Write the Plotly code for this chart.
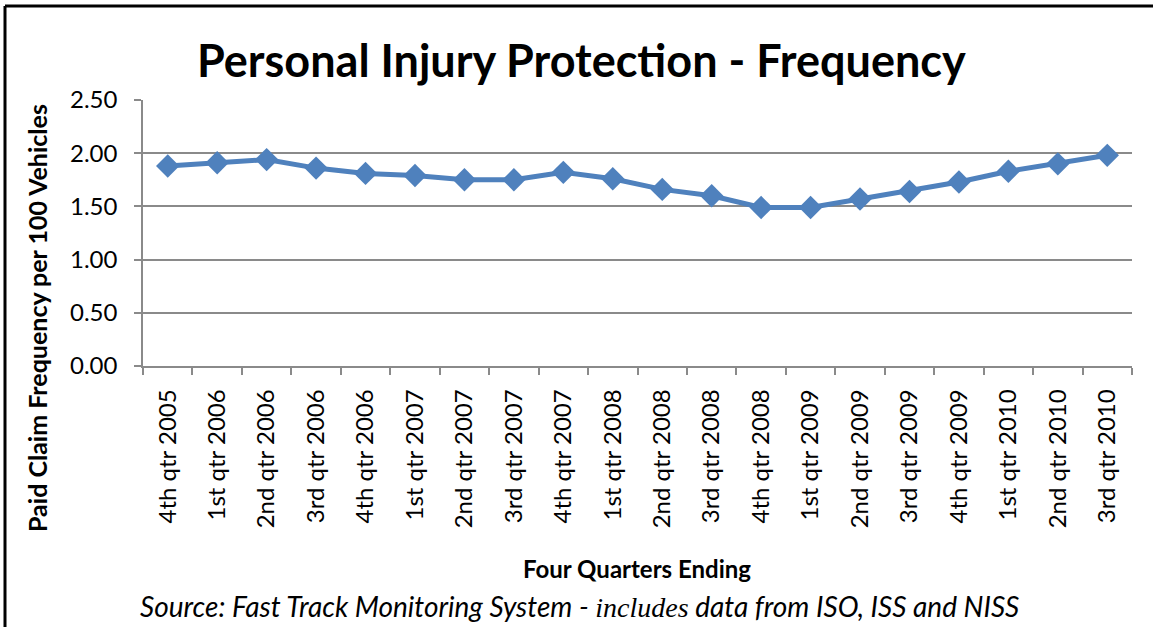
import plotly.graph_objects as go

categories = ["4th qtr 2005", "1st qtr 2006", "2nd qtr 2006", "3rd qtr 2006", "4th qtr 2006",
              "1st qtr 2007", "2nd qtr 2007", "3rd qtr 2007", "4th qtr 2007", "1st qtr 2008",
              "2nd qtr 2008", "3rd qtr 2008", "4th qtr 2008", "1st qtr 2009", "2nd qtr 2009",
              "3rd qtr 2009", "4th qtr 2009", "1st qtr 2010", "2nd qtr 2010", "3rd qtr 2010"]
frequency = [1.88, 1.91, 1.94, 1.86, 1.81, 1.79, 1.75, 1.75, 1.82, 1.76,
             1.66, 1.60, 1.49, 1.49, 1.57, 1.64, 1.73, 1.83, 1.90, 1.98]
y_ticks = [0.0, 0.5, 1.0, 1.5, 2.0, 2.5]

FONT = "Lato"
GRID = "#8a8a8a"
L, R, T, B = 143, 1132, 100, 366
PW, PH = R - L, B - T


def px(xp):
    return (xp - L) / PW


def py(yp):
    return (B - yp) / PH


fig = go.Figure()
fig.add_trace(go.Scatter(
    x=categories, y=frequency, mode="lines+markers",
    line=dict(color="#4F81BD", width=5),
    marker=dict(symbol="diamond", size=18, color="#4F81BD"),
    showlegend=False, hoverinfo="x+y",
))

fig.update_layout(
    width=1153, height=627,
    margin=dict(l=L, r=1153 - R, t=T, b=627 - B, autoexpand=False),
    paper_bgcolor="white", plot_bgcolor="white",
    font=dict(family=FONT, color="black"),
    xaxis=dict(
        type="category", range=[-0.5, len(categories) - 0.5],
        tickangle=-90, tickfont=dict(family=FONT, size=24),
        ticks="outside", ticklen=7, tickcolor=GRID, tickwidth=1.5,
        tickson="boundaries", ticklabelstandoff=12,
        showline=True, linecolor=GRID, linewidth=1.5,
        showgrid=False, automargin=False,
    ),
    yaxis=dict(
        range=[0, 2.5], tickvals=y_ticks, ticktext=[f"{v:.2f}" for v in y_ticks],
        tickfont=dict(family=FONT, size=24),
        ticks="outside", ticklen=7, tickcolor=GRID, tickwidth=1.5,
        ticklabelstandoff=12,
        showline=True, linecolor=GRID, linewidth=1.5,
        showgrid=True, gridcolor=GRID, gridwidth=1.5,
        zeroline=False, automargin=False,
    ),
)

# frame (top and left edges visible)
fig.add_shape(type="line", xref="paper", yref="paper", x0=px(5), x1=px(1160),
              y0=py(6), y1=py(6), line=dict(color="black", width=3))
fig.add_shape(type="line", xref="paper", yref="paper", x0=px(5), x1=px(5),
              y0=py(6), y1=py(640), line=dict(color="black", width=3))

fig.add_annotation(xref="paper", yref="paper", x=px(581), y=py(60), xanchor="center", yanchor="middle",
                   showarrow=False, text="<b>Personal Injury Protection - Frequency</b>",
                   font=dict(family=FONT, size=45, color="black"))
fig.add_annotation(xref="paper", yref="paper", x=px(37), y=py(318), xanchor="center", yanchor="middle",
                   showarrow=False, textangle=-90, text="<b>Paid Claim Frequency per 100 Vehicles</b>",
                   font=dict(family=FONT, size=25, color="black"))
fig.add_annotation(xref="paper", yref="paper", x=px(637), y=py(568), xanchor="center", yanchor="middle",
                   showarrow=False, text="<b>Four Quarters Ending</b>",
                   font=dict(family=FONT, size=24, color="black"))
fig.add_annotation(
    xref="paper", yref="paper", x=px(579), y=py(606), xanchor="center", yanchor="middle",
    showarrow=False,
    text="<i>Source: Fast Track Monitoring System - </i><span style='font-family:Liberation Serif'><i>includes</i></span><i> data from ISO, ISS and NISS</i>",
    font=dict(family=FONT, size=28, color="black"),
)

fig.write_html("out.html", config={"displayModeBar": False},
               post_script="document.body.style.margin='0';document.body.style.overflow='hidden';")
